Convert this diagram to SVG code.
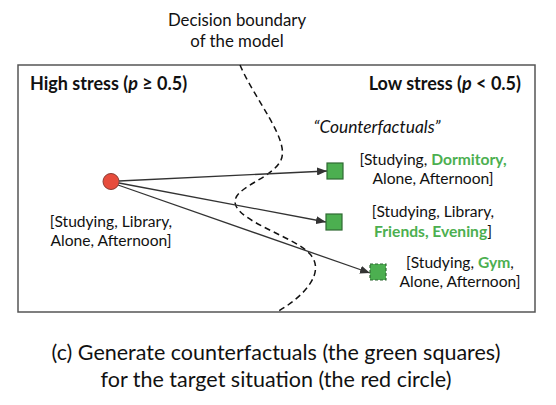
<svg xmlns="http://www.w3.org/2000/svg" width="556" height="405" viewBox="0 0 556 405">
<style>
text{font-family:Lato,"Liberation Sans",sans-serif;fill:#111}
.lbl{font-size:15.6px;text-anchor:middle}
.hdr{font-size:18px;font-weight:bold}
.g{fill:#4caf50;font-weight:bold}
.cap{font-size:21.5px;text-anchor:middle}
.sq{fill:#4caf50;stroke:#2f6a33;stroke-width:1.2}
.conn{stroke:#333;stroke-width:1.3;fill:none;marker-end:url(#ah)}
</style>
<defs>
<marker id="ah" viewBox="0 0 10 8" refX="10" refY="4" markerWidth="10" markerHeight="8" markerUnits="userSpaceOnUse" orient="auto">
<path d="M0,0 L10,4 L0,8 z" fill="#333"/>
</marker>
</defs>
<rect width="556" height="405" fill="#fff"/>
<g id="title">
<text x="237" y="26" class="lbl" style="font-size:16.8px">Decision boundary</text>
<text x="237" y="47" class="lbl" style="font-size:16.8px">of the model</text>
</g>
<g id="frame">
<rect x="18" y="65" width="517" height="247" fill="none" stroke="#555" stroke-width="1.5"/>
<text x="30" y="90" class="hdr">High stress (<tspan font-style="italic">p</tspan> ≥ 0.5)</text>
<text x="521" y="90" class="hdr" text-anchor="end">Low stress (<tspan font-style="italic">p</tspan> &lt; 0.5)</text>
<text x="377" y="133" class="lbl" style="font-size:17.4px;font-style:italic">“Counterfactuals”</text>
</g>
<g id="boundary">
<path d="M240,65 C255,100 290,140 281,160 C272,180 228,188 236,206 C245,224 296,238 310,254 C326,272 305,296 277,312" fill="none" stroke="#111" stroke-width="1.5" stroke-dasharray="6,4"/>
</g>
<g id="connectors">
<line class="conn" x1="119" y1="181" x2="327" y2="171"/>
<line class="conn" x1="119" y1="183" x2="326" y2="222"/>
<line class="conn" x1="118" y1="185" x2="370" y2="273"/>
</g>
<g id="target">
<circle cx="111" cy="181.5" r="8" fill="#e74c3c" stroke="#8a3b33" stroke-width="1"/>
<text x="111" y="227" class="lbl">[Studying, Library,</text>
<text x="111" y="246" class="lbl">Alone, Afternoon]</text>
</g>
<g id="cf1">
<rect class="sq" x="327" y="163" width="16" height="16"/>
<text x="433" y="165" class="lbl">[Studying, <tspan class="g">Dormitory,</tspan></text>
<text x="433" y="184" class="lbl">Alone, Afternoon]</text>
</g>
<g id="cf2">
<rect class="sq" x="326" y="214" width="16" height="16"/>
<text x="433" y="217" class="lbl">[Studying, Library,</text>
<text x="433" y="237" class="lbl"><tspan class="g">Friends, Evening</tspan>]</text>
</g>
<g id="cf3">
<rect class="sq" x="370" y="264" width="16" height="16" stroke-dasharray="3,2"/>
<text x="460" y="268" class="lbl">[Studying, <tspan class="g">Gym</tspan>,</text>
<text x="460" y="287" class="lbl">Alone, Afternoon]</text>
</g>
<g id="caption">
<text x="276" y="360" class="cap">(c) Generate counterfactuals (the green squares)</text>
<text x="276" y="387" class="cap">for the target situation (the red circle)</text>
</g>
</svg>
